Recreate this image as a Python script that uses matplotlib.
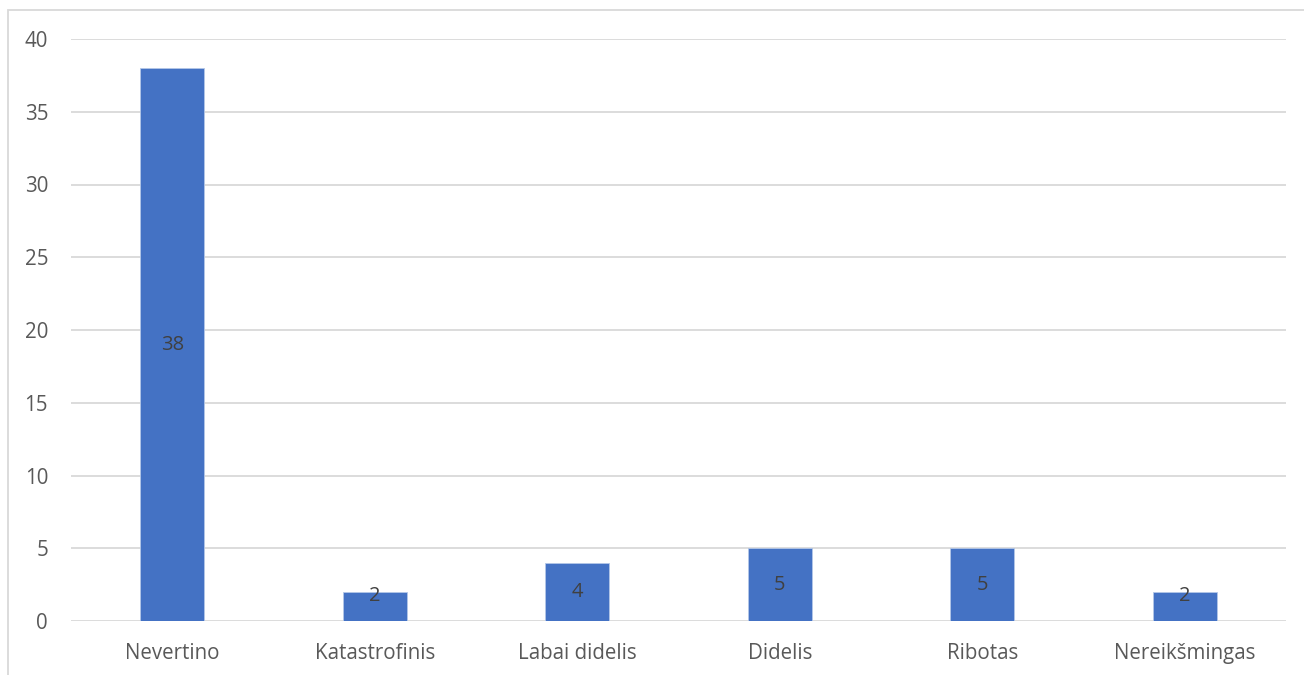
import matplotlib
matplotlib.use("Agg")
import matplotlib.pyplot as plt
from matplotlib.patches import Rectangle

categories = ["Nevertino", "Katastrofinis", "Labai didelis", "Didelis", "Ribotas", "Nereikšmingas"]
values = [38, 2, 4, 5, 5, 2]
yticks = [0, 5, 10, 15, 20, 25, 30, 35, 40]

plt.rcParams["font.family"] = ["Open Sans", "DejaVu Sans"]

W, H = 1304, 675
fig = plt.figure(figsize=(W / 100, H / 100), dpi=100)
ax = fig.add_axes([71 / W, 1 - 621 / H, (1286 - 71) / W, (621 - 39) / H])

# Outer chart frame (open on the right and bottom)
fig.patches.append(Rectangle((7.5 / W, -0.1), 1.2, 1 - 9.5 / H + 0.1,
                             transform=fig.transFigure, fill=False,
                             edgecolor="#d9d9d9", linewidth=1.3))

x = list(range(len(categories)))
bars = ax.bar(x, values, width=0.316, color="#4472C4", edgecolor="#b4c7e7",
              linewidth=0.6, zorder=3)

# Value labels centred in each bar, kept clear of the baseline on short bars
for xi, v in zip(x, values):
    ax.text(xi, max(v / 2, 1.72), str(v), ha="center", va="center",
            fontsize=14.5, color="#404040", zorder=4)

ax.set_xlim(-0.5, len(categories) - 0.5)
ax.set_ylim(0, 40)
ax.set_yticks(yticks)
ax.set_xticks(x)
ax.set_xticklabels(categories)
ax.grid(axis="y", color="#d9d9d9", linewidth=1.3, zorder=0)
ax.set_axisbelow(True)
for s in ax.spines.values():
    s.set_visible(False)
ax.tick_params(axis="both", length=0, labelsize=14.8, colors="#595959")
ax.tick_params(axis="y", pad=16.5)
ax.tick_params(axis="x", pad=15.5)

fig.savefig("out.png", dpi=100)
